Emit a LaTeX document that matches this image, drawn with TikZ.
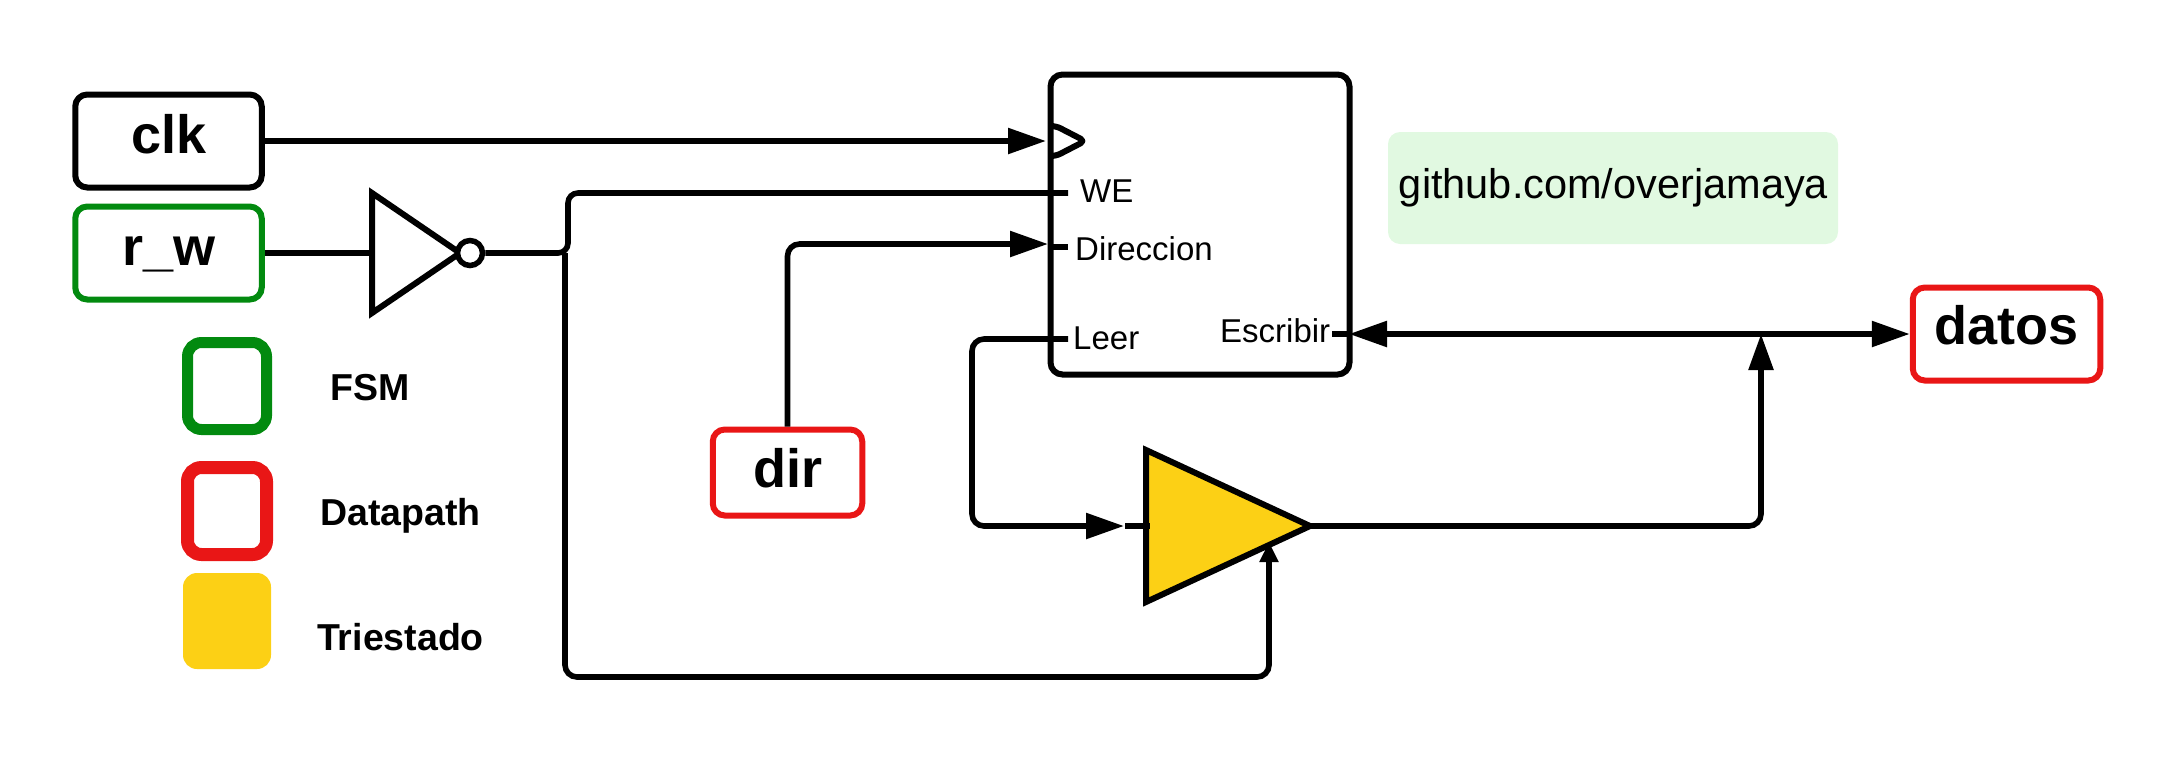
\documentclass[tikz,border=0pt]{standalone}
\usepackage{fontspec}
\setmainfont{Liberation Sans}
\usetikzlibrary{arrows.meta,calc}
\definecolor{fsmgreen}{HTML}{028A0F}
\definecolor{dpred}{HTML}{E91616}
\definecolor{triyellow}{HTML}{FCD015}
\definecolor{notegreen}{HTML}{E1F9E1}
\newcommand{\fs}[1]{\fontsize{#1}{#1}\selectfont}
\tikzset{
  iobox/.style={draw,line width=6pt,rounded corners=12pt,inner sep=0pt,minimum width=186.5pt,minimum height=93pt},
  iolabel/.style={anchor=base,inner sep=0pt,font=\fs{54}\bfseries},
  portlabel/.style={anchor=base west,inner sep=0pt,font=\fs{33}},
  legendlabel/.style={anchor=base,inner sep=0pt,font=\fs{37.5}\bfseries},
  legendbox/.style={rounded corners=14pt,inner sep=0pt,minimum width=79pt,minimum height=87pt},
  wire/.style={line width=5.6pt,rounded corners=12pt,line cap=butt},
  bigarrow/.style={-{Triangle[length=38pt,width=25pt]}},
  bothway/.style={{Triangle[length=38pt,width=25pt]}-{Triangle[length=38pt,width=25pt]}},
  smallarrow/.style={-{Triangle[length=20pt,width=18pt]}},
}
\begin{document}
\begin{tikzpicture}[x=1pt,y=-1pt]
\useasboundingbox (0,0) rectangle (2175,756);
% boxes
\node[iobox] (clkbox) at (168.5,141) {};
\node[iobox,draw=fsmgreen] (rwbox) at (168.5,253) {};
\node[iobox,draw=dpred,minimum width=149.5pt,minimum height=86pt] (dirbox) at (787.5,472.5) {};
\node[iobox,draw=dpred,minimum width=187.5pt] (datosbox) at (2006.5,334) {};
\node[iolabel] (clk) at (169,153) {clk};
\node[iolabel] (rw) at (169,265) {r\_w};
\node[iolabel] (dir) at (788,487) {dir};
\node[iolabel] (datos) at (2006.5,344) {datos};
% legend
\node[legendbox,draw=fsmgreen,line width=11pt] (lfsm) at (227,386) {};
\node[legendbox,draw=dpred,line width=13pt] (ldp) at (227,511) {};
\node[legendbox,fill=triyellow,minimum width=88pt,minimum height=96pt] (ltri) at (227,621) {};
\node[legendlabel] (tfsm) at (370.5,400) {FSM};
\node[legendlabel] (tdp) at (400.5,525) {Datapath};
\node[legendlabel] (ttri) at (400.5,650) {Triestado};
% note
\node[fill=notegreen,rounded corners=12pt,inner sep=0pt,minimum width=450pt,minimum height=112pt] (note) at (1613,188) {};
\node[anchor=base,inner sep=0pt,font=\fs{41.5}] (notetext) at (1613.5,198) {github.com/overjamaya};
% block
\node[draw,line width=6pt,rounded corners=12pt,inner sep=0pt,minimum width=299pt,minimum height=300pt,fill=white] (block) at (1200,224.5) {};
\coordinate (ckin) at (1046,141);
\coordinate (westub) at (1068,193);
\coordinate (dirin) at (1048,244);
\coordinate (dirstuba) at (1048,247);
\coordinate (dirstub) at (1068,247);
\coordinate (leerstub) at (1068,339);
\coordinate (escstub) at (1332,334);
\coordinate (esc) at (1349,334);
\draw[line width=6pt,line join=round,rounded corners=5pt] (1050,126) -- (1056,126) -- (1085,141) -- (1056,156) -- (1050,156);
\node[portlabel] (we) at (1080,202) {WE};
\node[portlabel] (direccion) at (1075,260) {Direccion};
\node[portlabel] (leer) at (1073,349) {Leer};
\node[portlabel] (escribir) at (1220,342) {Escribir};
% inverter
\coordinate (invA) at (372,193);
\coordinate (invB) at (372,313);
\coordinate (invT) at (460,253);
\draw[line width=6pt,miter limit=10,fill=white] (invA) -- (invT) -- (invB) -- cycle;
\node[draw,circle,line width=5.5pt,inner sep=0pt,minimum size=25pt,fill=white] (bubble) at (470,253) {};
% tristate
\coordinate (triA) at (1146,450);
\coordinate (triB) at (1146,602);
\coordinate (triT) at (1310,526);
\draw[line width=6pt,miter limit=10,fill=triyellow] (triA) -- (triT) -- (triB) -- cycle;
% junctions and waypoints
\coordinate (triin) at (1124,526);
\coordinate (tristub) at (1150,526);
\coordinate (trien) at (1269,542);
% wires
\draw[wire,bigarrow] (clkbox.east |- ckin) -- (ckin);
\draw[wire] (rwbox.east) -- (invA |- invT);
\draw[wire,rounded corners=10pt] (bubble.east) -- (568,253) -- (568,193) -- (westub);
\draw[wire] (565,253) -- (565,677) -- (trien |- 0,677) -- ($(trien)+(0,10)$);
\draw[wire,smallarrow,rounded corners=0pt] (1269,570) -- (trien);
\draw[wire,bigarrow] (dirbox.north) |- (dirin);
\draw[wire] (dirstuba) -- (dirstub);
\draw[wire,bigarrow] (leerstub) -- (972,339) -- (972,526) -- (triin);
\draw[wire] (1125,526) -- (tristub);
\draw[wire,bothway] (esc) -- (datosbox.west);
\draw[wire] (escstub) -- (1349,334);
\draw[wire,-{Triangle[length=36pt,width=24pt]}] (triT) -- (1761,526) -- (1761,334);
\end{tikzpicture}
\end{document}
